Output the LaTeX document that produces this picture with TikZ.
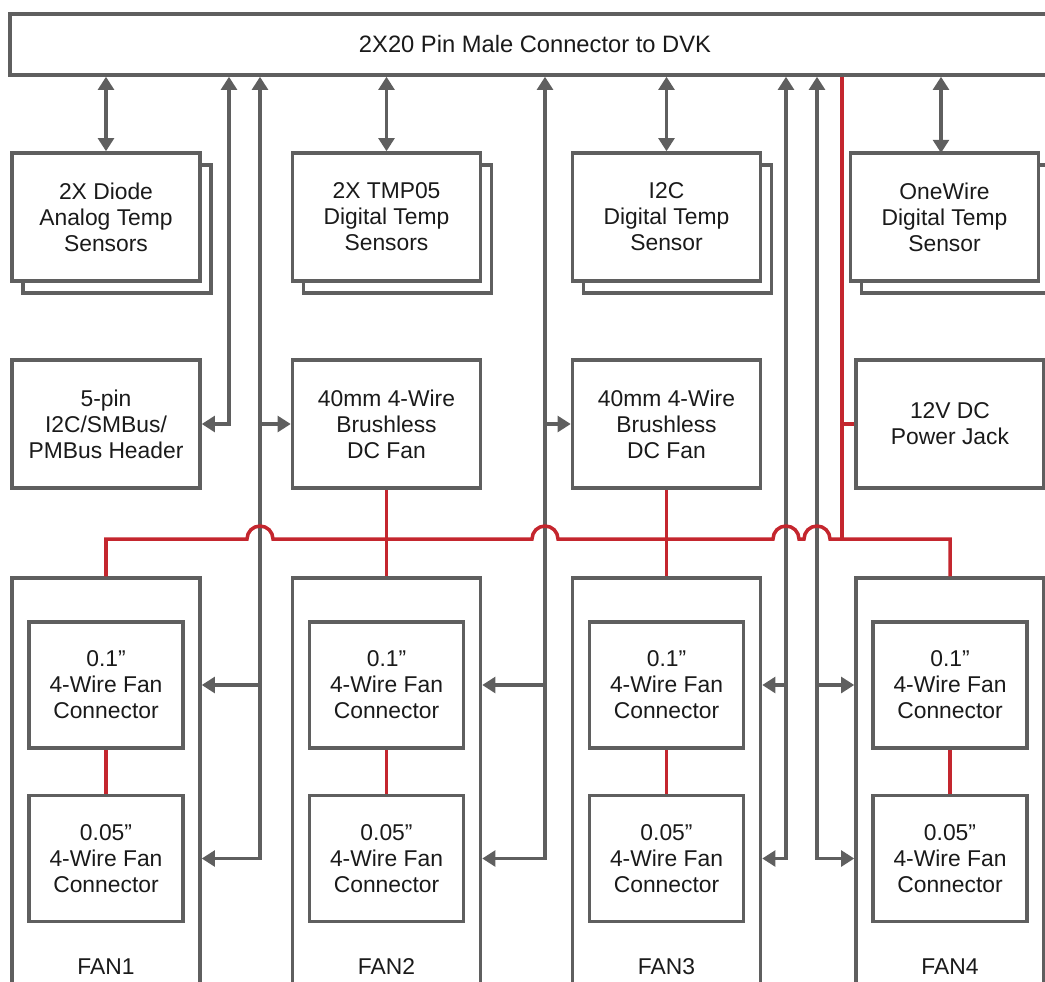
\documentclass[tikz,border=0pt]{standalone}
\usepackage{fontspec}
\setmainfont{Liberation Sans}
\usetikzlibrary{arrows.meta,shadows,calc}
\definecolor{gris}{HTML}{5F5F5F}
\definecolor{rojo}{HTML}{C4262E}
\definecolor{texto}{HTML}{1A1A1A}
\tikzset{
  caja/.style={draw=gris, line width=2pt, fill=white, text=texto, align=center,
    font=\fontsize{13}{14.8}\selectfont, inner sep=0pt},
  sensor/.style={caja, minimum width=3.76cm, minimum height=2.56cm,
    copy shadow={shadow xshift=0.22cm, shadow yshift=-0.24cm}},
  modulo/.style={caja, minimum width=3.76cm, minimum height=2.56cm},
  ventilador/.style={caja, minimum width=3.76cm, minimum height=8.44cm},
  conector/.style={caja, minimum width=3.08cm, minimum height=2.52cm},
  rotulo/.style={text=texto, font=\fontsize{13}{14.8}\selectfont, inner sep=0pt},
  linea/.style={draw=gris, line width=2pt},
  potencia/.style={draw=rojo, line width=2pt}
}
\begin{document}
\begin{tikzpicture}[x=0.02cm, y=0.02cm, >={Triangle[length=7.5pt,width=9pt]}]
\useasboundingbox (0,0) rectangle (1045,-981);
\clip (0,0) rectangle (1045,-981);

% Conector principal
\node[caja, minimum width=21cm, minimum height=1.22cm, font=\fontsize{13.5}{15}\selectfont] (dvk) at (535,-44.5) {2X20 Pin Male Connector to DVK};

% Sensores de temperatura
\node[sensor] (s1) at (106,-217) {2X Diode\\Analog Temp\\Sensors};
\node[sensor] (s2) at (386.5,-217) {2X TMP05\\Digital Temp\\Sensors};
\node[sensor] (s3) at (666.5,-217) {I2C\\Digital Temp\\Sensor};
\node[sensor] (s4) at (944.5,-217) {OneWire\\Digital Temp\\Sensor};

% Segunda fila
\node[modulo] (hdr) at (106,-424) {5-pin\\I2C/SMBus/\\PMBus Header};
\node[modulo] (fana) at (386.5,-424) {40mm 4-Wire\\Brushless\\DC Fan};
\node[modulo] (fanb) at (666.5,-424) {40mm 4-Wire\\Brushless\\DC Fan};
\node[modulo] (jack) at (950,-424) {12V DC\\Power Jack};

% Ventiladores con sus conectores
\foreach \n/\x in {1/106, 2/386.5, 3/666.5, 4/950} {
  \node[ventilador] (fan\n) at (\x,-789) {};
  \node[conector] (c\n a) at (\x,-685) {0.1”\\4-Wire Fan\\Connector};
  \node[conector] (c\n b) at (\x,-858.5) {0.05”\\4-Wire Fan\\Connector};
  \node[rotulo] (fan\n lbl) at (\x,-967) {FAN\n};
  \draw[potencia] (c\n a) -- (c\n b);
}

% Buses verticales
\coordinate (b1) at (229,0);
\coordinate (b2) at (260,0);
\coordinate (b3) at (545,0);
\coordinate (b4) at (786,0);
\coordinate (b5) at (817,0);
\coordinate (pw) at (842,0);
\coordinate (rail) at (0,-539);

% Flechas de los sensores
\foreach \s in {s1,s2,s3} {
  \draw[linea, <->] (dvk.south -| \s) -- (\s.north);
}
\draw[linea, <->] (dvk.south -| 941,0) -- (941,-153);

% Señales
\draw[linea, <->] (dvk.south -| b1) |- (hdr.east);
\draw[linea, <->] (fan1.east |- c1b) -| (dvk.south -| b2);
\draw[linea, ->] (b2 |- c1a) -- (fan1.east |- c1a);
\draw[linea, ->] (b2 |- fana) -- (fana.west);
\draw[linea, <->] (fan2.east |- c2b) -| (dvk.south -| b3);
\draw[linea, ->] (b3 |- c2a) -- (fan2.east |- c2a);
\draw[linea, ->] (b3 |- fanb) -- (fanb.west);
\draw[linea, <->] (fan3.east |- c3b) -| (dvk.south -| b4);
\draw[linea, ->] (b4 |- c3a) -- (fan3.east |- c3a);
\draw[linea, <->] (fan4.west |- c4b) -| (dvk.south -| b5);
\draw[linea, ->] (b5 |- c4a) -- (fan4.west |- c4a);

% Alimentacion de 12 V
\draw[potencia] (dvk.south -| pw) -- (pw |- rail);
\draw[potencia] (pw |- jack.west) -- (jack.west);
\draw[potencia] (fan1.north) |- ($(b2 |- rail)+(-13,0)$) arc[start angle=180, end angle=0, radius=0.26cm]
  -- ($(b3 |- rail)+(-13,0)$) arc[start angle=180, end angle=0, radius=0.26cm]
  -- ($(b4 |- rail)+(-13,0)$) arc[start angle=180, end angle=0, radius=0.26cm]
  -- ($(b5 |- rail)+(-13,0)$) arc[start angle=180, end angle=0, radius=0.26cm]
  -| (fan4.north);
\draw[potencia] (fana.south) -- (fan2.north);
\draw[potencia] (fanb.south) -- (fan3.north);
\end{tikzpicture}
\end{document}
